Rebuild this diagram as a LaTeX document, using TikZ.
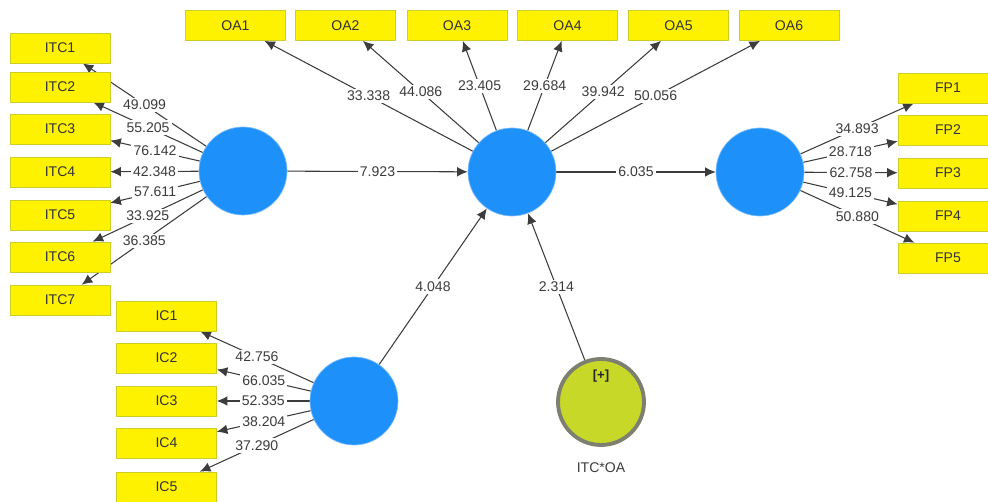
\documentclass[tikz,border=0pt]{standalone}
\usepackage{fontspec}
\setmainfont{Liberation Sans}
\usetikzlibrary{arrows.meta,backgrounds}
\definecolor{lvblue}{RGB}{30,144,250}
\definecolor{modgreen}{RGB}{200,216,40}
\definecolor{modring}{RGB}{125,128,112}
\definecolor{boxline}{RGB}{205,205,40}
\definecolor{txtgrey}{RGB}{60,60,60}
\tikzset{
  ind/.style={draw=boxline, fill=yellow, minimum width=2cm, minimum height=0.6cm, inner sep=0pt, text=black!80, font=\fontsize{8}{9}\selectfont},
  lv/.style={circle, fill=lvblue, draw=lvblue!60!white, minimum size=1.76cm, inner sep=0pt},
  mod/.style={circle, fill=modgreen, draw=modring, line width=2.2pt, minimum size=1.72cm, inner sep=0pt},
  link/.style={draw=txtgrey, line width=0.6pt, -{Latex[length=6pt,width=5.5pt]}},
  val/.style={fill=white, text=txtgrey, inner sep=1.2pt, font=\fontsize{8}{9}\selectfont},
}

\begin{document}
\begin{tikzpicture}[x=0.02cm,y=-0.02cm]
    \useasboundingbox (0,0) rectangle (988,502);

    \node[lv] (itc) at (243,171) {};
    \node[lv] (oa) at (512,172) {};
    \node[lv] (fp) at (760,172) {};
    \node[lv] (ic) at (354,401) {};
    \node[mod] (itcoa) at (601,402) {};
    \node[text=black!85, font=\fontsize{7.5}{8}\selectfont\bfseries] (plus) at (601,376) {[+]};
    \node[text=txtgrey, font=\fontsize{8}{9}\selectfont] (modname) at (601,468) {ITC*OA};

    \node[ind] (itc1) at (60,48) {ITC1};
    \node[ind] (itc2) at (60,87) {ITC2};
    \node[ind] (itc3) at (60,129) {ITC3};
    \node[ind] (itc4) at (60,172) {ITC4};
    \node[ind] (itc5) at (60,215) {ITC5};
    \node[ind] (itc6) at (60,257) {ITC6};
    \node[ind] (itc7) at (60,300) {ITC7};

    \node[ind] (oa1) at (235.5,25.5) {OA1};
    \node[ind] (oa2) at (345.5,25.5) {OA2};
    \node[ind] (oa3) at (457,25.5) {OA3};
    \node[ind] (oa4) at (567.5,25.5) {OA4};
    \node[ind] (oa5) at (678.5,25.5) {OA5};
    \node[ind] (oa6) at (789,25.5) {OA6};

    \node[ind] (fp1) at (948,88) {FP1};
    \node[ind] (fp2) at (948,130) {FP2};
    \node[ind] (fp3) at (948,173) {FP3};
    \node[ind] (fp4) at (948,216) {FP4};
    \node[ind] (fp5) at (948,258) {FP5};

    \node[ind] (ic1) at (166.5,316) {IC1};
    \node[ind] (ic2) at (166.5,358) {IC2};
    \node[ind] (ic3) at (166.5,401) {IC3};
    \node[ind] (ic4) at (166.5,443) {IC4};
    \node[ind] (ic5) at (166.5,487) {IC5};

    \begin{scope}[on background layer]
        \draw[link] (itc) -- node[val] {49.099} (itc1);
        \draw[link] (itc) -- node[val] {55.205} (itc2);
        \draw[link] (itc) -- node[val] {76.142} (itc3);
        \draw[link] (itc) -- node[val] {42.348} (itc4);
        \draw[link] (itc) -- node[val] {57.611} (itc5);
        \draw[link] (itc) -- node[val] {33.925} (itc6);
        \draw[link] (itc) -- node[val] {36.385} (itc7);

        \draw[link] (oa) -- node[val] {33.338} (oa1);
        \draw[link] (oa) -- node[val] {44.086} (oa2);
        \draw[link] (oa) -- node[val] {23.405} (oa3);
        \draw[link] (oa) -- node[val] {29.684} (oa4);
        \draw[link] (oa) -- node[val] {39.942} (oa5);
        \draw[link] (oa) -- node[val] {50.056} (oa6);

        \draw[link] (fp) -- node[val] {34.893} (fp1);
        \draw[link] (fp) -- node[val] {28.718} (fp2);
        \draw[link] (fp) -- node[val] {62.758} (fp3);
        \draw[link] (fp) -- node[val] {49.125} (fp4);
        \draw[link] (fp) -- node[val] {50.880} (fp5);

        \draw[link] (ic) -- node[val] {42.756} (ic1);
        \draw[link] (ic) -- node[val] {66.035} (ic2);
        \draw[link] (ic) -- node[val] {52.335} (ic3);
        \draw[link] (ic) -- node[val] {38.204} (ic4);
        \draw[link] (ic) -- node[val] {37.290} (ic5);

        \draw[link] (itc) -- node[val] {7.923} (oa);
        \draw[link] (oa) -- node[val] {6.035} (fp);
        \draw[link] (ic) -- node[val] {4.048} (oa);
        \draw[link] (itcoa) -- node[val] {2.314} (oa);
    \end{scope}
\end{tikzpicture}
\end{document}
